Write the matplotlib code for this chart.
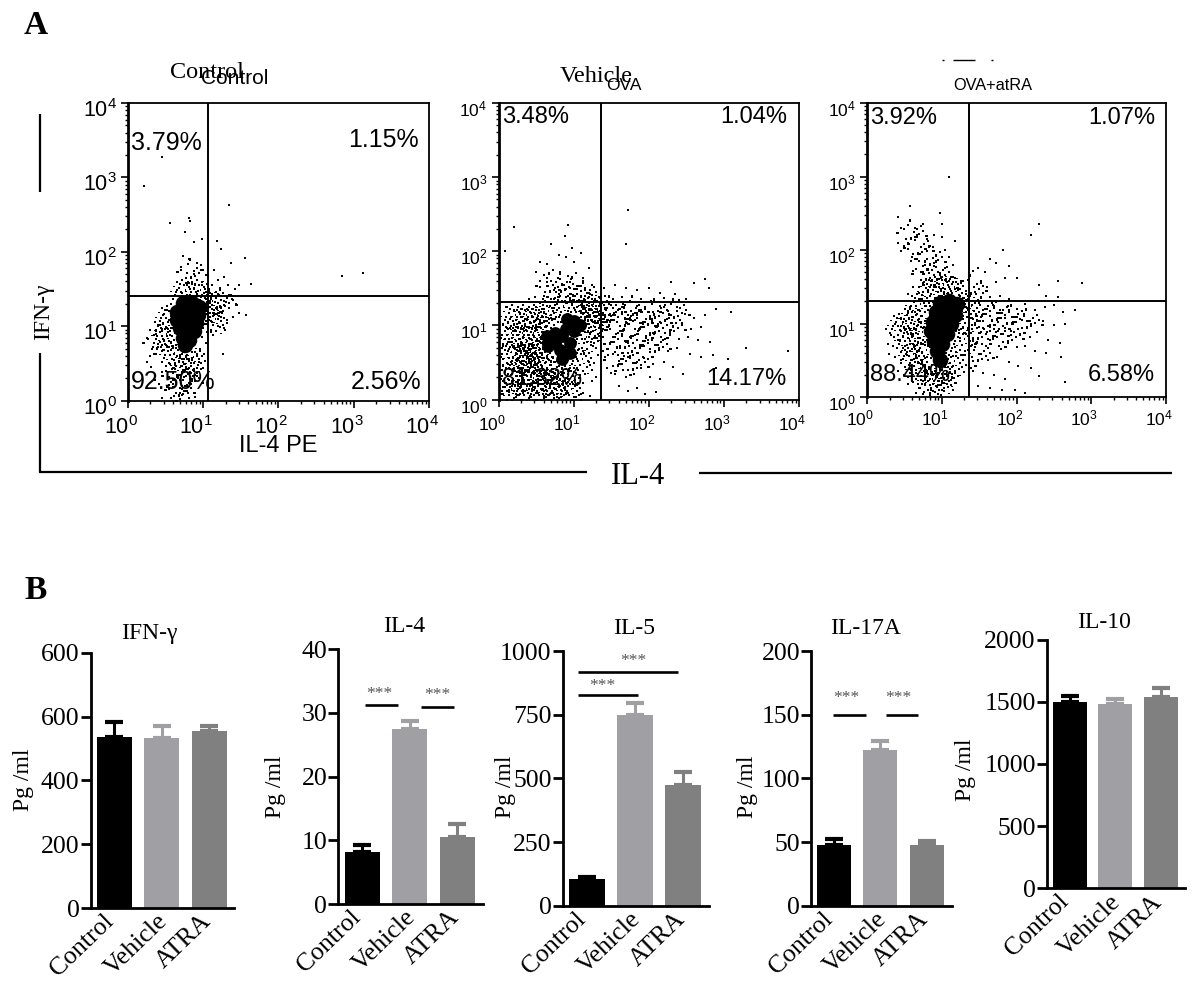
import numpy as np
from matplotlib import pyplot as plt
from matplotlib.lines import Line2D
from matplotlib.path import Path
from matplotlib.ticker import LogLocator, NullFormatter
from matplotlib.transforms import ScaledTranslation

plt.rcParams["font.family"] = ["Liberation Serif", "DejaVu Sans"]
plt.rcParams["mathtext.default"] = "regular"

W, H = 1200, 988
SANS = "Liberation Sans"

# flow cytometry, positions read as log10 of the axis value (IL-4, IFN-y)
# core = solid black part, halo/haze = speckled parts too dense to read dot by dot, cloud = single dots
ctrl_core = [(.73,1.31),(.86,1.31),(.95,1.26),(.66,1.19),(.80,1.19),(.93,1.15),(.66,1.08),(.80,1.06),
             (.91,1.04),(.69,.97),(.80,.93),(.88,.93),(.73,.84),(.82,.81),(.76,.75)]
ctrl_halo = [(.55,1.1),(.5,.85),(.6,.6),(.75,.45),(.85,.55),(1.05,1.2),(1.1,1.3),(1.15,1.05),(.95,1.45),(.75,1.45)]
ctrl_haze = [(.65,.3),(.8,.25),(.4,.75),(.7,.12),(1.25,1.3),(.85,1.7)]
ctrl_cloud = [(.45,3.27),(.21,2.89),(1.35,2.63),(.82,2.45),(.83,2.42),(.56,2.39),(.76,2.26),(.88,2.13),(.98,2.17),
              (1.18,2.15),(1.24,2.04),(1.56,1.92),(1.37,1.85),(1.64,1.57),(2.85,1.67),(3.12,1.72),(1.57,1.15),(1.27,.62),
              (.74,1.95),(.82,1.9),(.92,1.85),(.71,1.75),(.79,1.72),(.88,1.7),(.97,1.76),(1.07,1.68),(1.14,1.75),(1.2,1.62),
              (1.28,1.66),(1.33,1.55),(1.42,1.5),(1.48,1.55),(1.22,1.52),(1.12,1.55),(.98,1.6),(.9,1.55),(.78,1.58),(.66,1.48),
              (.72,1.45),(.83,1.5),(.93,1.47),(1.02,1.5),(1.09,1.44),(1.17,1.46),(1.26,1.45),(1.34,1.42),(1.38,1.36),(1.3,1.32),
              (1.22,1.27),(1.27,1.2),(1.35,1.25),(1.44,1.3),(1.48,1.18),(1.4,1.12),(1.32,1.08),(1.24,1.13),(1.15,1.18),(1.12,1.05),
              (1.2,1.0),(1.28,.97),(1.1,.92),(1.03,1.2),(1.05,1.33),(1.1,1.36),(.58,1.3),(.52,1.22),(.47,1.15),(.55,1.08),
              (.43,1.02),(.36,1.05),(.3,.95),(.38,.9),(.46,.93),(.52,.97),(.56,.88),(.48,.8),(.4,.76),(.33,.72),(.27,.83),
              (.3,.6),(.38,.62),(.45,.66),(.52,.72),(.58,.68),(.62,.62),(.98,.85),(1.04,.78),(.96,.7),(1.01,.62),(.92,.6),
              (.62,.55),(.7,.58),(.78,.6),(.86,.55),(.94,.52),(.55,.5),(.62,.44),(.72,.46),(.8,.42),(.88,.4),(.97,.42),
              (.46,.38),(.55,.32),(.66,.33),(.74,.28),(.85,.27),(.92,.33),(.42,.22),(.52,.18),(.6,.22),(.7,.17),(.78,.2),
              (.64,.1),(.72,.08),(.8,.1),(.45,.04),(.58,.03),(.7,.02),(.82,.03),(.9,.05),(.36,.28),(.31,.45),(.25,.52)]

veh_core = [(1.00,1.06),(.91,1.08),(1.09,1.01),(1.00,.92),(.84,.85),(.75,.76),(.95,.76),(.95,.63),(.82,.67),
            (.66,.72),(.9,.95),(.75,.9),(.65,.85),(.85,.55)]
veh_halo = [(.2,1.1),(.35,1.1),(.5,1.1),(.65,1.15),(.15,.85),(.3,.85),(.45,.85),(.6,.95),(.15,.6),(.3,.55),(.45,.5),(.6,.45),(.75,.4),
            (.15,.3),(.3,.25),(.45,.25),(.6,.25),(.75,.2),(.9,.3),(.15,.1),(.35,.1),(.55,.1),(.75,.1),(.95,.1),(1.1,.5),(1.15,.8),(1.2,1.1),
            (.85,1.22),(1.05,1.22),(1.25,1.25),(.4,.62),(.5,.68),(.35,.5),(.55,.58),(1.25,.95),(1.3,1.15)]
veh_haze = [(.85,1.5),(.7,1.5),(1.0,1.45),(1.15,1.4),(1.5,1.1),(1.7,1.05),(1.9,1.0),(2.1,.95),(2.3,.95),(1.5,.8),(1.7,.75),(1.9,.75),
            (2.1,.7),(1.6,.5),(1.8,.45),(1.5,1.2),(1.8,1.2),(2.1,1.15),(2.35,1.15)]
veh_cloud = [(.2,2.33),(.92,2.35),(.08,2.0),(1.72,2.55),(1.7,2.1),(.55,1.85),(.65,1.83),(.88,2.2),(.98,2.05),(.7,2.1),(.8,1.95),
             (.9,1.92),(1.0,1.85),(1.1,1.98),(.5,1.72),(.6,1.68),(.72,1.75),(.82,1.72),(.92,1.66),(1.03,1.7),(1.13,1.64),(1.2,1.78),
             (.55,1.52),(.65,1.58),(.75,1.5),(.85,1.55),(.95,1.5),(1.05,1.53),(1.15,1.48),(1.25,1.55),(.6,1.4),(.7,1.36),(.8,1.42),
             (.9,1.38),(1.0,1.34),(1.1,1.4),(1.2,1.38),(1.28,1.33),(.48,1.38),(.4,1.35),(1.4,1.5),(1.55,1.55),(1.7,1.5),(1.85,1.48),
             (2.0,1.5),(2.15,1.44),(2.3,1.58),(2.35,1.42),(2.6,1.57),(2.75,1.62),(2.8,1.5),(1.42,1.4),(1.52,1.36),(1.65,1.38),(1.78,1.4),
             (1.9,1.36),(2.03,1.33),(2.2,1.37),(2.4,1.34),(2.5,1.36),
             (.1,1.25),(.2,1.2),(.28,1.15),(.38,1.22),(.5,1.25),(.6,1.18),(.15,1.08),(.25,1.02),(.35,1.08),(.45,1.12),(.55,1.05),
             (.12,.95),(.22,.92),(.32,.95),(.5,.95),(.62,.98),(.7,1.1),(.08,.82),(.18,.78),(.28,.82),(.58,.85),(.66,.9),(.04,.7),
             (.12,.65),(.22,.7),(.3,.72),(.55,.78),(.72,.92),(.06,.55),(.16,.5),(.24,.55),(.32,.48),(.5,.48),(.7,.5),(.78,.52),(.88,.48),
             (1.05,.55),(1.12,.65),(1.18,.78),(1.22,.9),(1.26,1.05),(1.3,1.18),(1.2,1.22),(1.1,1.2),(1.26,.72),(1.2,.5),
             (.05,.4),(.12,.35),(.2,.38),(.28,.32),(.38,.4),(.46,.36),(.56,.38),(.64,.4),(.75,.36),(.85,.35),(.95,.38),(1.05,.42),(1.15,.35),
             (.08,.22),(.18,.25),(.26,.18),(.34,.24),(.44,.2),(.52,.24),(.62,.18),(.7,.22),(.8,.2),(.92,.24),(1.02,.2),(1.12,.22),(1.24,.25),
             (.06,.08),(.14,.1),(.24,.06),(.32,.1),(.42,.05),(.5,.09),(.6,.05),(.68,.08),(.78,.04),(.9,.08),(1.0,.04),(1.1,.07),(1.22,.05),
             (1.42,1.22),(1.5,1.28),(1.6,1.22),(1.68,1.28),(1.76,1.2),(1.85,1.26),(1.95,1.22),(2.05,1.18),(2.15,1.26),(2.25,1.2),(2.38,1.25),
             (2.48,1.16),(2.6,1.1),(2.75,1.14),(2.9,1.22),(3.1,1.18),(1.4,1.08),(1.5,1.12),(1.58,1.05),(1.68,1.1),(1.72,1.02),(1.82,1.07),
             (1.92,1.02),(2.02,1.08),(2.12,1.02),(2.22,1.06),(2.32,.98),(2.44,1.03),(2.56,.95),(2.7,.98),(1.38,.92),(1.48,.95),(1.56,.88),
             (1.66,.94),(1.76,.86),(1.86,.92),(1.96,.86),(2.06,.9),(2.16,.84),(2.28,.87),(2.4,.82),(2.52,.84),(2.65,.8),(2.82,.78),
             (1.4,.75),(1.5,.78),(1.62,.72),(1.72,.76),(1.82,.7),(1.92,.74),(2.02,.68),(2.14,.7),(2.26,.66),(2.38,.7),(2.55,.62),(2.7,.58),(2.85,.6),
             (1.42,.58),(1.52,.62),(1.6,.52),(1.72,.58),(1.84,.5),(1.94,.56),(2.05,.48),(2.2,.5),(2.32,.44),(2.45,.35),
             (1.45,.42),(1.55,.35),(1.66,.4),(1.8,.34),(1.9,.42),(2.02,.3),(2.15,.28),(1.6,.18),(1.72,.12),(1.85,.15),(1.95,.08),(2.1,.1),
             (1.3,.3),(1.32,.6),(1.34,.85),(1.35,1.0),(3.85,.65),(3.3,.7),(2.9,.42),(3.05,.55)]

atra_core = [(.98,1.28),(1.1,1.3),(1.2,1.27),(.92,1.15),(1.05,1.16),(1.18,1.12),(.88,1.02),(1.0,1.02),(1.12,1.0),
             (.86,.9),(.98,.88),(1.07,.86),(.9,.76),(1.0,.72),(.94,.62),(.98,.5)]
atra_halo = [(.45,.95),(.55,.75),(.6,.55),(.7,.35),(.85,.2),(1.0,.2),(.6,1.05),(.7,1.22),(1.28,.75),(1.32,1.05),(1.38,1.2),(1.15,.45),
             (1.05,.3),(1.0,1.48),(.85,1.42),(1.15,1.45),(.72,.85),(.78,.6)]
atra_haze = [(1.55,1.15),(1.75,1.1),(1.95,1.05),(2.15,1.0),(1.5,.85),(1.7,.85),(1.9,.8),(1.5,.55),(.7,2.0),(.85,1.85),(.6,2.2),
             (.95,1.65),(.8,1.65),(1.4,1.45)]
atra_cloud = [(1.1,3.0),(.75,2.35),(.98,2.5),(.58,2.6),(1.0,2.35),(.42,2.45),(.5,2.28),(.64,2.3),(.8,2.15),(.9,2.2),(1.0,2.18),(1.18,2.12),
              (.42,2.1),(.55,2.02),(.67,2.18),(.78,2.02),(.88,2.04),(1.05,2.0),(.46,1.98),(.6,1.9),(.7,1.85),(.8,1.88),(.92,1.92),(1.1,1.9),
              (.62,1.72),(.72,1.7),(.82,1.74),(.95,1.7),(1.05,1.76),(1.15,1.8),(.75,1.55),(.85,1.58),(.96,1.6),(1.06,1.58),(1.18,1.62),(1.28,1.58),
              (.7,1.42),(.82,1.46),(.92,1.5),(1.02,1.48),(1.12,1.44),(1.22,1.46),(.55,1.4),(.62,1.5),(1.36,1.48),(1.42,1.72),(1.48,1.75),(1.58,1.7),
              (1.65,1.88),(1.72,1.82),(1.9,1.78),(1.52,1.55),(1.6,1.5),(1.72,1.56),(1.85,1.62),(2.0,1.62),(2.3,1.52),(2.55,1.58),(2.88,1.55),
              (1.38,1.38),(1.46,1.4),(1.55,1.42),(1.65,1.36),(1.78,1.38),(1.9,1.34),(2.4,1.38),(2.55,1.36),(2.3,2.35),(2.2,2.2),(1.82,2.0),
              (.25,.92),(.32,.85),(.38,1.0),(.45,1.08),(.5,.95),(.55,1.15),(.6,1.05),(.65,.92),(.7,1.18),(.78,1.24),(.72,1.02),(.28,.72),(.35,.7),
              (.42,.78),(.48,.66),(.55,.8),(.62,.72),(.7,.62),(.78,.75),(.3,.58),(.38,.55),(.46,.5),(.52,.58),(.58,.46),(.65,.55),(.72,.45),(.8,.55),
              (.42,.36),(.5,.3),(.58,.38),(.65,.32),(.72,.28),(.8,.35),(.88,.3),(.55,.18),(.62,.2),(.7,.12),(.78,.18),(.85,.1),(.92,.15),(1.0,.22),
              (1.08,.3),(1.12,.55),(1.18,.68),(1.25,.8),(1.28,.95),(1.28,1.1),(1.32,1.22),(1.3,1.3),(1.25,1.38),(.66,.05),(.75,.04),(.84,.05),(.95,.04),
              (1.4,1.25),(1.5,1.28),(1.58,1.2),(1.68,1.25),(1.78,1.18),(1.88,1.24),(2.0,1.2),(2.12,1.26),(2.25,1.18),(2.38,1.22),(2.5,1.25),(2.62,1.15),(2.78,1.18),
              (1.38,1.08),(1.46,1.12),(1.55,1.04),(1.65,1.1),(1.75,1.02),(1.85,1.08),(1.95,1.0),(2.08,1.05),(2.2,1.0),(2.35,1.03),(2.5,.98),(2.65,1.0),
              (1.4,.92),(1.5,.95),(1.6,.88),(1.7,.92),(1.82,.86),(1.92,.9),(2.05,.84),(2.18,.82),(2.28,.88),(2.42,.78),(2.58,.74),(1.42,.76),(1.54,.72),
              (1.64,.78),(1.76,.7),(1.88,.74),(2.0,.68),(2.12,.7),(2.25,.62),(2.4,.6),(2.6,.55),(1.4,.55),(1.5,.58),(1.62,.5),(1.74,.54),(1.9,.48),
              (2.02,.42),(2.2,.4),(2.3,.28),(1.42,.35),(1.55,.32),(1.7,.3),(1.85,.25),(1.48,.15),(1.65,.12),(1.8,.1),(1.98,.1),(2.12,.06),(2.65,.2)]

flow_panels = [
    (ctrl_core, ctrl_halo, ctrl_haze, ctrl_cloud, 1.066, 1.406),
    (veh_core, veh_halo, veh_haze, veh_cloud, 1.36, 1.31),
    (atra_core, atra_halo, atra_haze, atra_cloud, 1.36, 1.30),
]
decades = [1, 10, 100, 1000, 10000]
decade_labels = ["$10^{0}$", "$10^{1}$", "$10^{2}$", "$10^{3}$", "$10^{4}$"]

# cytokine bars: means and top of error bar
groups = ["Control", "Vehicle", "ATRA"]
ifn_mean = [537, 534, 556]
ifn_top = [583, 569, 570]
il4_mean = [8.1, 27.5, 10.6]
il4_top = [9.3, 28.8, 12.5]
il5_mean = [106, 750, 475]
il5_top = [111, 794, 524]
il17_mean = [48, 122, 48]
il17_top = [52.6, 129, 50.5]
il10_mean = [1496, 1483, 1539]
il10_top = [1544, 1523, 1611]
bar_colors = ["#000000", "#a0a0a4", "#808080"]

# marker shape for the speckled parts: a patch of tiny squares
speckle_spots = [(-.9,.1),(-.72,-.38),(-.7,.44),(-.55,.05),(-.5,-.7),(-.46,.72),(-.38,-.24),(-.33,.36),(-.22,-.55),(-.18,.08),
                 (-.12,.9),(-.08,-.88),(-.04,-.22),(.02,.52),(.1,.2),(.14,-.6),(.2,-.1),(.28,.78),(.33,.38),(.38,-.36),
                 (.45,.05),(.5,-.78),(.55,.58),(.62,-.2),(.7,.26),(.76,-.52),(.9,-.05),(-.62,-.12),(-.26,.62),(.22,.55)]


def speckle(n, half=0.065):
    verts, codes = [], []
    for x, y in speckle_spots[::n]:
        verts += [(x - half, y - half), (x + half, y - half), (x + half, y + half), (x - half, y + half), (x - half, y - half)]
        codes += [Path.MOVETO, Path.LINETO, Path.LINETO, Path.LINETO, Path.CLOSEPOLY]
    return Path(verts, codes)


def px_axes(fig, left, right, top, bottom):
    return fig.add_axes([left / W, 1 - bottom / H, (right - left) / W, (bottom - top) / H])


def ftext(fig, x, y, s, **kw):
    kw.setdefault("ha", "center")
    kw.setdefault("va", "center")
    fig.text(x / W, 1 - y / H, s, **kw)


def fline(fig, xs, ys, lw=1.6):
    fig.add_artist(Line2D([x / W for x in xs], [1 - y / H for y in ys], color="black", lw=lw,
                          solid_capstyle="butt", transform=fig.transFigure))


def shift(fig, label, dx, dy):
    label.set_transform(label.get_transform() + ScaledTranslation(dx / 100, dy / 100, fig.dpi_scale_trans))


def flow_panel(fig, box, core, halo, haze, cloud, vx, hy, fs, xpad, core_size):
    ax = px_axes(fig, *box)
    ax.set_xscale("log")
    ax.set_yscale("log")
    ax.set_xlim(1, 10000)
    ax.set_ylim(1, 10000)
    pts = 10 ** np.array(haze)
    ax.scatter(pts[:, 0], pts[:, 1], s=500, c="black", marker=speckle(2), lw=0, zorder=2)
    pts = 10 ** np.array(halo)
    ax.scatter(pts[:, 0], pts[:, 1], s=420, c="black", marker=speckle(1), lw=0, zorder=2)
    pts = 10 ** np.array(core)
    ax.scatter(pts[:, 0], pts[:, 1], s=core_size, c="black", lw=0, zorder=3)
    pts = 10 ** np.array(cloud)
    ax.scatter(pts[:, 0], pts[:, 1], s=4, c="black", marker="s", lw=0, zorder=3)
    ax.axvline(10 ** vx, color="black", lw=1.4, zorder=4)
    ax.axhline(10 ** hy, color="black", lw=1.4, zorder=4)
    ax.set_xticks(decades, decade_labels, family=SANS, fontsize=fs)
    ax.set_yticks(decades, decade_labels, family=SANS, fontsize=fs)
    for axis in (ax.xaxis, ax.yaxis):
        axis.set_minor_locator(LogLocator(base=10, subs=range(2, 10), numticks=12))
        axis.set_minor_formatter(NullFormatter())
    ax.tick_params(which="major", length=5, width=1.2, pad=3)
    ax.tick_params(axis="x", which="major", pad=xpad)
    ax.tick_params(which="minor", length=2.5, width=1)
    for lab in ax.get_xticklabels():
        shift(fig, lab, -7, 0)
    for lab in ax.get_yticklabels():
        shift(fig, lab, 0, -5)
    for s in ax.spines.values():
        s.set_linewidth(1.3)
    ax.spines["left"].set_linewidth(2)
    ax.patch.set_alpha(0)
    return ax


def bar_panel(fig, box, mean, top, ymax, ticks, labels, start, step, width):
    # start/step/width in pixels, turned into data x so that bars sit at 1, 2, 3
    ax = px_axes(fig, *box)
    ax.set_xlim(1 + (box[0] - start) / step, 1 + (box[1] - start) / step)
    ax.set_ylim(0, ymax)
    x = np.arange(1, 4)
    ax.bar(x, mean, width=width / step, color=bar_colors, zorder=2)
    for xi, m, t, c in zip(x, mean, top, bar_colors):
        ax.errorbar(xi, m, yerr=[[0], [t - m]], color=c, lw=2.2, capsize=6.5, capthick=3, zorder=1)
    ax.spines["top"].set_visible(False)
    ax.spines["right"].set_visible(False)
    ax.spines["left"].set_linewidth(2)
    ax.spines["bottom"].set_linewidth(2)
    ax.set_yticks(ticks, labels, fontsize=18.5)
    ax.tick_params(axis="y", length=7, width=2, pad=1)
    ax.set_xticks(x, groups, fontsize=18.5, rotation=44, ha="right", rotation_mode="anchor")
    ax.tick_params(axis="x", length=0, pad=6)
    for lab, dx in zip(ax.get_xticklabels(), [-12, -5, -9]):
        shift(fig, lab, dx, 6)
    return ax


def sig(ax, x0, x1, y, sx, sy):
    ax.plot([x0, x1], [y, y], color="black", lw=1.9, solid_capstyle="butt", zorder=5)
    ax.text(sx, sy, "***", color="#555555", fontsize=12.5, ha="center", va="center")


fig = plt.figure(figsize=(W / 100, H / 100), dpi=100, facecolor="white")

# panel A
flow_boxes = [(127.7, 429, 103, 400.6), (498.5, 799, 103, 399.5), (867, 1166, 103, 397)]
flow_pads = [6, 5, 3]
flow_fs = [15.5, 12.5, 12.5]
core_sizes = [125, 85, 125]
for p, box, pad, fs, cs in zip(flow_panels, flow_boxes, flow_pads, flow_fs, core_sizes):
    flow_panel(fig, box, p[0], p[1], p[2], p[3], p[4], p[5], fs, pad, cs)

ftext(fig, 36, 25, "A", fontsize=24, fontweight="bold")
ftext(fig, 36, 590, "B", fontsize=24, fontweight="bold")
ftext(fig, 207, 72, "Control", fontsize=17.5)
ftext(fig, 235, 79, "Control", family=SANS, fontsize=15)
ftext(fig, 596, 76, "Vehicle", fontsize=17.5)
ftext(fig, 624, 85, "OVA", family=SANS, fontsize=12.5)
ftext(fig, 993, 85, "OVA+atRA", family=SANS, fontsize=11.8)
fline(fig, [953, 975], [60, 60], lw=1)
fline(fig, [942, 944], [60, 60], lw=1)
fline(fig, [991, 993], [60, 60], lw=1)

quad_text = [
    ("3.79%", 131, 143, "left", 18), ("1.15%", 419, 140, "right", 18), ("92.50%", 131, 382, "left", 18), ("2.56%", 421, 382, "right", 18),
    ("3.48%", 502, 117, "left", 17), ("1.04%", 787, 117, "right", 17), ("81.32%", 502, 379, "left", 17), ("14.17%", 786, 379, "right", 17),
    ("3.92%", 870, 118, "left", 17), ("1.07%", 1155, 118, "right", 17), ("88.44%", 870, 375, "left", 17), ("6.58%", 1155, 375, "right", 17),
]
for s, x, y, ha, fs in quad_text:
    ftext(fig, x, y, s, family=SANS, fontsize=fs, ha=ha)

ftext(fig, 278, 446, "IL-4 PE", family=SANS, fontsize=17)
ftext(fig, 638, 476, "IL-4", fontsize=22)
ftext(fig, 44, 312, "IFN-γ", fontsize=17, rotation=90)
fline(fig, [40, 40], [114, 192])
fline(fig, [40, 40], [353, 473])
fline(fig, [39, 587], [472, 472])
fline(fig, [699, 1172], [473, 473])

# panel B
ax1 = bar_panel(fig, (90.7, 234, 652.7, 908), ifn_mean, ifn_top, 800, [0, 200, 400, 600, 800],
                ["0", "200", "400", "600", "600"], 114.3, 47.4, 35)
ax2 = bar_panel(fig, (338.3, 482.7, 649.3, 904), il4_mean, il4_top, 40, [0, 10, 20, 30, 40],
                ["0", "10", "20", "30", "40"], 362, 47.7, 35)
ax3 = bar_panel(fig, (562.7, 709, 651, 905.7), il5_mean, il5_top, 1000, [0, 250, 500, 750, 1000],
                ["0", "250", "500", "750", "1000"], 586.6, 48.4, 36)
ax4 = bar_panel(fig, (811.4, 952, 651, 905.7), il17_mean, il17_top, 200, [0, 50, 100, 150, 200],
                ["0", "50", "100", "150", "200"], 834, 46.4, 34)
ax5 = bar_panel(fig, (1046.8, 1184.5, 639.7, 888.3), il10_mean, il10_top, 2000, [0, 500, 1000, 1500, 2000],
                ["0", "500", "1000", "1500", "2000"], 1069.5, 45.5, 34)

sig(ax2, 1.063, 1.76, 31.25, 1.36, 33.0)
sig(ax2, 2.24, 2.93, 31.0, 2.58, 32.8)
sig(ax3, 0.826, 2.88, 916, 1.96, 960)
sig(ax3, 0.826, 2.07, 828, 1.33, 863)
sig(ax4, 0.98, 1.70, 150, 1.26, 163)
sig(ax4, 2.12, 2.82, 150, 2.39, 163)

for title, x, y in [("IFN-γ", 149, 633), ("IL-4", 404, 626), ("IL-5", 634, 628), ("IL-17A", 866, 628), ("IL-10", 1104, 622)]:
    ftext(fig, x, y, title, fontsize=17)
for x, y in [(24, 780), (276, 787), (506, 787), (748, 787), (965, 770)]:
    ftext(fig, x, y, "Pg /ml", fontsize=17, rotation=90)

fig.savefig("out.png", dpi=100)
